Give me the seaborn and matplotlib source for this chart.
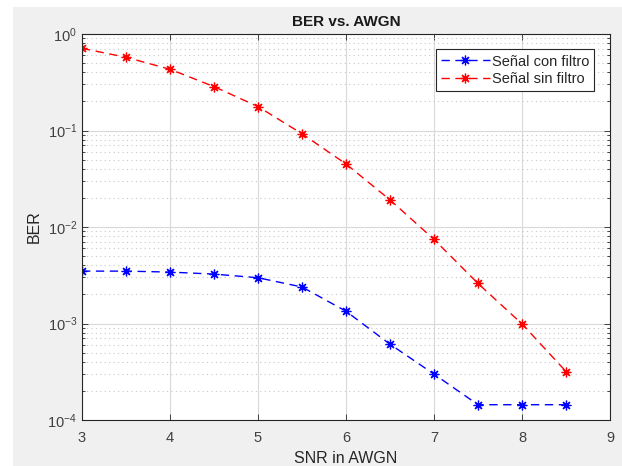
import matplotlib
matplotlib.use('Agg')
import matplotlib.pyplot as plt
from matplotlib.patches import Rectangle
from matplotlib.ticker import LogLocator, NullFormatter
import numpy as np
import pandas as pd
import seaborn as sns

# values
snr = [3, 3.5, 4, 4.5, 5, 5.5, 6, 6.5, 7, 7.5, 8, 8.5]
ber_con_filtro = [0.00349, 0.00349, 0.00341, 0.00325, 0.00298, 0.00239,
                  0.00134, 0.00061, 0.000299, 0.000144, 0.000144, 0.000144]
ber_sin_filtro = [0.71, 0.574, 0.431, 0.285, 0.177, 0.0925,
                  0.045, 0.0191, 0.00743, 0.0026, 0.00099, 0.000318]
series_names = ['Señal con filtro', 'Señal sin filtro']
series_colors = ['#0000ff', '#ff0000']

df = pd.DataFrame({
    'snr': snr * 2,
    'ber': ber_con_filtro + ber_sin_filtro,
    'serie': [series_names[0]] * len(snr) + [series_names[1]] * len(snr),
})

sns.set_style('ticks')
plt.rcParams['font.family'] = ['Liberation Sans', 'DejaVu Sans']
plt.rcParams['mathtext.default'] = 'regular'

fig = plt.figure(figsize=(6.22, 4.66), dpi=100, facecolor='white')
# grey figure area like the MATLAB window
fig.patches.append(Rectangle((13 / 622, 0), 1, 1 - 7 / 466,
                             transform=fig.transFigure, facecolor='#f0f0f0',
                             edgecolor='none', zorder=-10))
ax = fig.add_axes([82 / 622, 46 / 466, 528 / 622, 386 / 466])
ax.set_facecolor('white')

for name, color in zip(series_names, series_colors):
    sub = df[df['serie'] == name]
    sns.lineplot(data=sub, x='snr', y='ber', ax=ax, color=color,
                 linestyle=(0, (6, 4)), linewidth=1.0, marker=(8, 2, 0),
                 markersize=7, markeredgewidth=0.9, markeredgecolor=color,
                 label=name)

ax.set_yscale('log')
ax.set_xlim(3, 9)
ax.set_ylim(1e-4, 1)
ax.set_xticks([3, 4, 5, 6, 7, 8, 9])
ax.yaxis.set_major_locator(LogLocator(base=10, numticks=10))
ax.yaxis.set_minor_locator(LogLocator(base=10, subs=np.arange(2, 10), numticks=20))
ax.yaxis.set_minor_formatter(NullFormatter())

ax.grid(True, which='major', color='#d9d9d9', linewidth=0.8, linestyle='-')
ax.grid(True, which='minor', axis='y', color='#c8c8c8', linewidth=0.8,
        linestyle=(0, (1, 3)))
ax.set_axisbelow(True)

for side in ['top', 'right', 'bottom', 'left']:
    ax.spines[side].set_visible(True)
    ax.spines[side].set_color('#262626')
    ax.spines[side].set_linewidth(0.8)
ax.tick_params(which='both', direction='in', top=True, right=True,
               colors='#262626', labelcolor='#404040', labelsize=10.5)
ax.tick_params(which='major', length=4, width=0.6)
ax.tick_params(which='minor', length=2.5, width=0.6)
ax.tick_params(axis='x', pad=8)

ax.set_title('BER vs. AWGN', fontsize=11, fontweight='bold', color='#1a1a1a', pad=6)
ax.set_xlabel('SNR in AWGN', fontsize=11.5, color='#262626', labelpad=4)
ax.set_ylabel('BER', fontsize=11.5, color='#262626', labelpad=4)

leg = ax.legend(loc='upper right', bbox_to_anchor=(0.97, 0.96), fontsize=10.5,
                frameon=True, fancybox=False, framealpha=1, edgecolor='#262626',
                handlelength=3.4, borderpad=0.35, labelspacing=0.25,
                handletextpad=0.1, borderaxespad=0)
leg.get_frame().set_linewidth(0.8)

fig.savefig('out.png', dpi=100, facecolor=fig.get_facecolor())
